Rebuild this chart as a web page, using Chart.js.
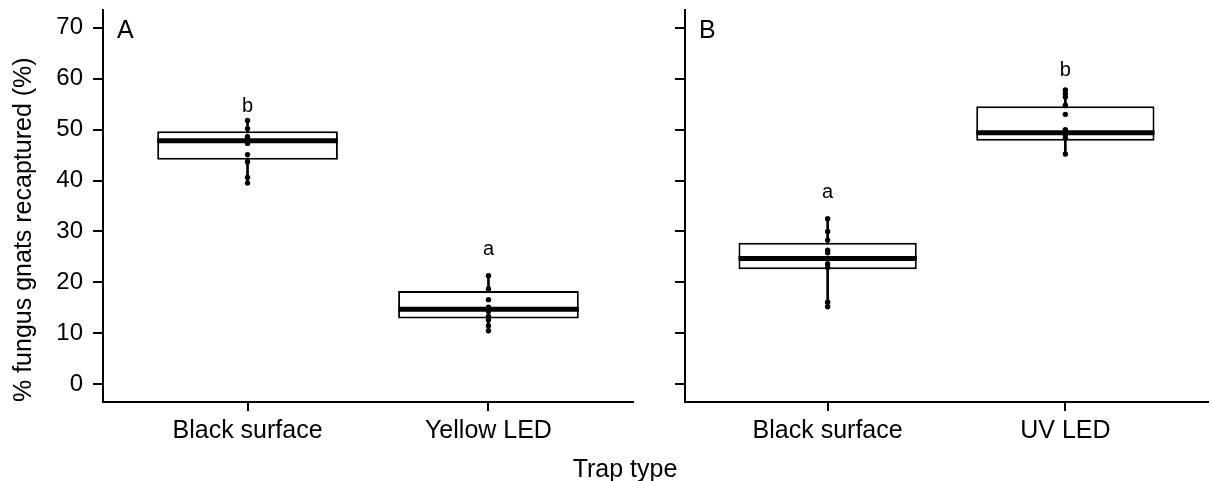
<!DOCTYPE html>
<html>
<head>
<meta charset="utf-8">
<title>Trap type recapture</title>
<script src="https://cdn.jsdelivr.net/npm/chart.js@4.4.1/dist/chart.umd.min.js"></script>
<style>
  html, body { margin: 0; padding: 0; background: #fff; }
  #wrap { position: relative; width: 1212px; height: 481px; font-family: "Liberation Sans", Arial, sans-serif; }
  canvas { position: absolute; top: 0; }
  #panelA { left: 0; }
  #panelB { left: 640px; }
  #xtitle { position: absolute; top: 453px; left: 525px; width: 200px; line-height: 30px; text-align: center; font-size: 25px; color: #000; }
</style>
</head>
<body>
<div id="wrap">
  <canvas id="panelA" width="640" height="481"></canvas>
  <canvas id="panelB" width="572" height="481"></canvas>
  <div id="xtitle">Trap type</div>
</div>
<script>
// categories and ticks
const catsA = ['Black surface', 'Yellow LED'];
const catsB = ['Black surface', 'UV LED'];
const yTicks = [0, 10, 20, 30, 40, 50, 60, 70];

// individual replicates (% recaptured)
const ptsABlack  = [51.8, 50.2, 48.6, 48.2, 47.8, 47.3, 45.1, 43.7, 40.6, 39.5];
const ptsAYellow = [21.3, 18.7, 16.6, 15.1, 14.7, 14.3, 13.3, 12.6, 11.5, 10.5];
const ptsBBlack  = [32.5, 30.0, 28.3, 26.3, 25.8, 24.6, 23.6, 22.9, 16.1, 15.2];
const ptsBUV     = [57.8, 57.1, 56.4, 54.8, 53.0, 50.0, 49.5, 49.0, 48.3, 45.2];

// box stats
const q1A  = [44.1, 12.9];
const medA = [47.8, 14.7];
const q3A  = [49.7, 18.3];
const q1B  = [22.6, 47.8];
const medB = [24.7, 49.4];
const q3B  = [27.8, 54.6];

// significance letters
const lettersA = ['b', 'a'];
const letterYA = [53.5, 25.4];
const lettersB = ['a', 'b'];
const letterYB = [36.5, 60.6];

const FONT = '"Liberation Sans", Arial, sans-serif';

const annotPlugin = {
    id: 'annot',
    afterDatasetsDraw(chart, args, o) {
        const { ctx, chartArea } = chart;
        const x = chart.scales.x, y = chart.scales.y;
        ctx.save();
        ctx.fillStyle = '#000';
        ctx.font = '20px ' + FONT;
        ctx.textAlign = 'center';
        ctx.textBaseline = 'alphabetic';
        o.letters.forEach((t, i) => {
            ctx.fillText(t, x.getPixelForValue(i + 1), y.getPixelForValue(o.letterY[i]));
        });
        ctx.font = '25px ' + FONT;
        ctx.textAlign = 'left';
        ctx.fillText(o.panel, chartArea.left + 14, chartArea.top + 28);
        ctx.restore();
    }
};

function halfBox(ctx) {
    const xs = ctx.chart.scales.x;
    return 0.375 * (xs.getPixelForValue(2) - xs.getPixelForValue(1));
}

function makePanel(id, cats, pts, q1, med, q3, letters, letterY, panel, isLeft) {
    const points = [];
    pts.forEach((arr, i) => arr.forEach(v => points.push({ x: i + 1, y: v })));

    new Chart(document.getElementById(id), {
        type: 'scatter',
        data: {
            datasets: [
                {
                    label: 'replicates',
                    data: points,
                    pointRadius: 2.7,
                    pointBackgroundColor: '#000',
                    pointBorderWidth: 0,
                    order: 0
                },
                {
                    label: 'median',
                    data: med.map((v, i) => ({ x: i + 1, y: v })),
                    pointStyle: 'line',
                    pointRadius: halfBox,
                    pointBorderColor: '#000',
                    pointBorderWidth: 5,
                    order: 1
                },
                {
                    type: 'bar',
                    label: 'box',
                    data: q1.map((v, i) => ({ x: i + 1, y: [v, q3[i]] })),
                    backgroundColor: '#fff',
                    borderColor: '#000',
                    borderWidth: 2,
                    borderSkipped: false,
                    grouped: false,
                    barPercentage: 0.75,
                    categoryPercentage: 1,
                    order: 2
                },
                {
                    type: 'bar',
                    label: 'whisker',
                    data: pts.map((arr, i) => ({ x: i + 1, y: [Math.min(...arr), Math.max(...arr)] })),
                    backgroundColor: '#000',
                    barThickness: 2,
                    grouped: false,
                    order: 3
                }
            ]
        },
        options: {
            responsive: false,
            animation: false,
            events: [],
            devicePixelRatio: 1,
            layout: { padding: { top: 10, right: isLeft ? 7 : 2, left: 0, bottom: 0 } },
            scales: {
                x: {
                    type: 'linear',
                    min: 0.4,
                    max: 2.6,
                    offset: false,
                    afterBuildTicks: s => { s.ticks = cats.map((c, i) => ({ value: i + 1 })); },
                    afterFit: s => { s.height = 79; s.paddingLeft = 0; s.paddingRight = 0; },
                    ticks: {
                        callback: v => cats[v - 1],
                        color: '#000',
                        font: { family: FONT, size: 25 },
                        padding: 5,
                        maxRotation: 0,
                        autoSkip: false
                    },
                    grid: { offset: false, drawOnChartArea: false, drawTicks: true, tickLength: 9, color: '#000', lineWidth: 2 },
                    border: { display: true, color: '#000', width: 2 }
                },
                y: {
                    type: 'linear',
                    min: -3.5,
                    max: 73.5,
                    afterBuildTicks: s => { s.ticks = yTicks.map(v => ({ value: v })); },
                    afterFit: s => { s.width = isLeft ? 103 : 45; s.paddingTop = 0; s.paddingBottom = 0; },
                    ticks: {
                        callback: v => isLeft ? String(v) : '',
                        color: '#000',
                        font: { family: FONT, size: 24 },
                        padding: 10
                    },
                    grid: { offset: false, drawOnChartArea: false, drawTicks: true, tickLength: 10, color: '#000', lineWidth: 2 },
                    border: { display: true, color: '#000', width: 2 },
                    title: {
                        display: isLeft,
                        text: '% fungus gnats recaptured (%)',
                        align: 'start',
                        color: '#000',
                        font: { family: FONT, size: 25 },
                        padding: { top: 9, bottom: 0 }
                    }
                }
            },
            plugins: {
                legend: { display: false },
                tooltip: { enabled: false },
                annot: { letters: letters, letterY: letterY, panel: panel }
            }
        },
        plugins: [annotPlugin]
    });
}

makePanel('panelA', catsA, [ptsABlack, ptsAYellow], q1A, medA, q3A, lettersA, letterYA, 'A', true);
makePanel('panelB', catsB, [ptsBBlack, ptsBUV], q1B, medB, q3B, lettersB, letterYB, 'B', false);
</script>
</body>
</html>
